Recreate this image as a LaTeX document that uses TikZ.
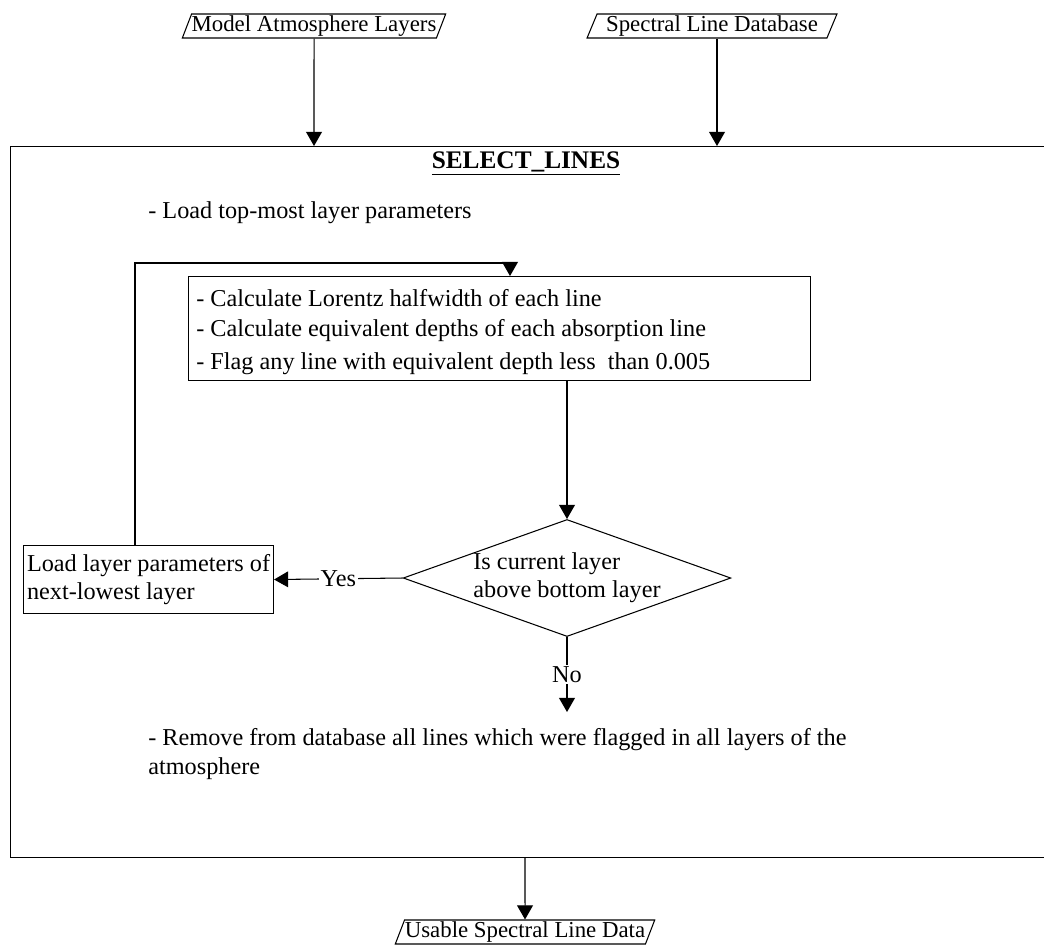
\documentclass[tikz,border=0pt]{standalone}
\usepackage{fontspec}
\setmainfont{Liberation Serif}
\usetikzlibrary{shapes.geometric,arrows.meta}
\begin{document}
\begin{tikzpicture} [
        x=0.02cm, y=-0.02cm,
        every node/.style={font=\fontsize{13.8}{16}\selectfont},
        io/.style={trapezium, trapezium left angle=66, trapezium right angle=114,
            trapezium stretches=true, draw, line width=0.6pt, inner sep=0pt,
            font=\fontsize{13}{15}\selectfont},
        txt/.style={anchor=west, inner sep=0pt},
        stepbox/.style={draw, line width=0.6pt, rectangle, inner sep=0pt},
        decide/.style={diamond, aspect=2.8, draw, line width=0.6pt, align=left, inner sep=0pt},
        flow/.style={draw, line width=0.6pt, -{Triangle[width=9pt,length=8pt]}},
        link/.style={draw, line width=0.6pt},
    ]
    \useasboundingbox (0,0) rectangle (1044,944);
    \clip (0,0) rectangle (1044,944);
    % inputs and output
    \node[io, minimum width=5.12cm, minimum height=0.48cm] (atmos) at (314,26) {Model Atmosphere Layers};
    \node[io, minimum width=5.0cm, minimum height=0.48cm] (linedb) at (712,26) {Spectral Line Database};
    \node[io, minimum width=5.2cm, minimum height=0.48cm] (usable) at (525,932) {Usable Spectral Line Data};
    % the SELECT_LINES frame
    \node[stepbox, anchor=north west, minimum width=21cm, minimum height=14.22cm] (frame) at (10,146) {};
    \node[font=\fontsize{14.4}{16}\selectfont\bfseries] (title) at (526,164) {\underline{SELECT\_LINES}};
    \node[txt] (loadtop) at (148,213) {- Load top-most layer parameters};
    % per layer calculations
    \node[stepbox, anchor=north west, minimum width=12.44cm, minimum height=2.08cm] (calc) at (188,276) {};
    \foreach \y/\name/\what in {
            298/lorentz/{- Calculate Lorentz halfwidth of each line},
            331/depth/{- Calculate equivalent depths of each absorption line},
            364/flag/{- Flag any line with equivalent depth less\ \ than 0.005}}
        \node[txt] (\name) at (196,\y) {\what};
    \node[decide, minimum width=6.48cm, minimum height=2.32cm] (test) at (567,578) {Is current layer\\above bottom layer};
    \node[stepbox, align=left, anchor=north west, inner xsep=2pt, minimum height=1.36cm] (next) at (23,545) {Load layer parameters of\\next-lowest layer};
    \node[txt, anchor=north west, align=left, font=\fontsize{13.8}{16.5}\selectfont] (remove) at (148,728)
        {- Remove from database all lines which were flagged in all layers of the\\atmosphere};
    \coordinate (loopx) at (135,0);
    \coordinate (looptop) at (510,263);
    \coordinate (notip) at (567,712);
    % connectors
    \path[flow] (atmos) -- (atmos |- frame.north);
    \path[flow] (linedb.south -| 717,0) -- (frame.north -| 717,0);
    \path[flow] (next.north -| loopx) |- (looptop) -- (looptop |- calc.north);
    \path[flow] (test.north |- calc.south) -- (test.north);
    \path[flow] (test.west) -- node[fill=white, inner sep=1pt] {Yes} (next.east);
    \path[flow] (test.south) -- node[fill=white, inner sep=1pt] {No} (notip);
    \path[flow] (frame.south -| usable) -- (usable.north);
\end{tikzpicture}
\end{document}
